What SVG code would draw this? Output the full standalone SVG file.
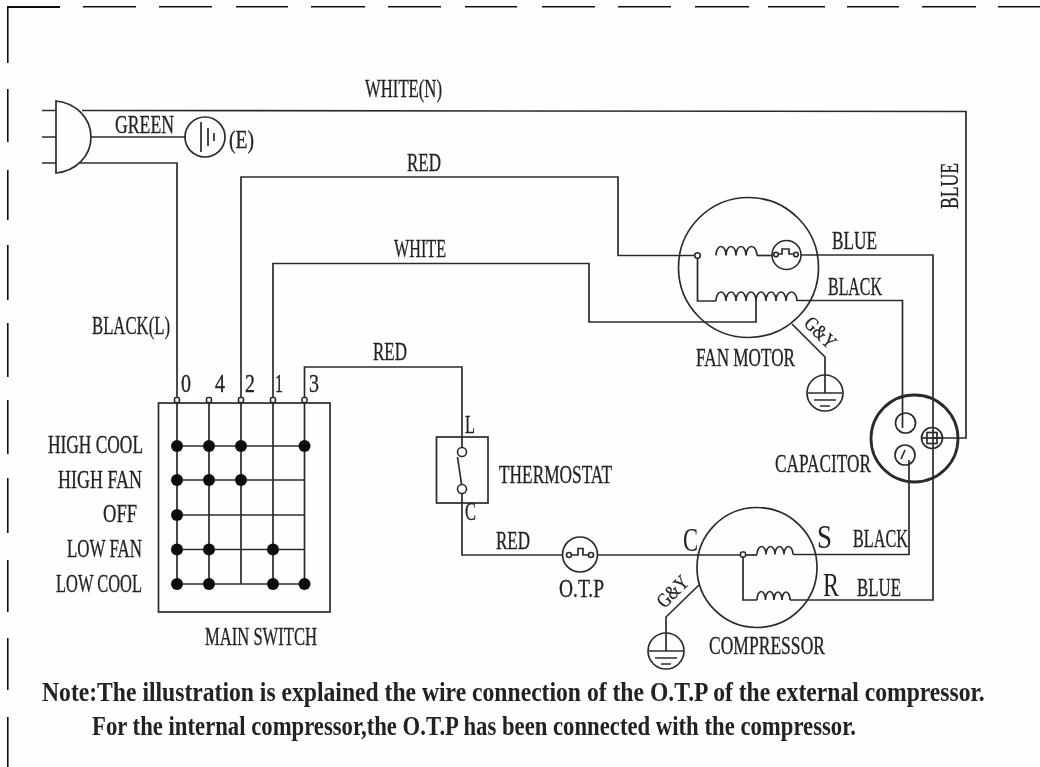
<svg xmlns="http://www.w3.org/2000/svg" width="1040" height="767" viewBox="0 0 1040 767">
<style>
text{font-family:"Liberation Serif","Times New Roman",serif;font-size:25px;fill:#222;stroke:#222;stroke-width:.3}
.w{fill:none;stroke:#2c2c2c;stroke-width:1.7;stroke-linejoin:miter}
.o{fill:#fff;stroke:#2c2c2c;stroke-width:1.6}
.n{fill:none;stroke:#2c2c2c;stroke-width:1.7}
.d{fill:#111;stroke:none}
.b{fill:none;stroke:#111;stroke-width:2.2}
.note{font-weight:bold;font-size:28px;stroke-width:0}
.big{font-size:33px;stroke-width:0}
.gy{font-size:20px}
</style>
<defs>
<filter id="soft" x="0" y="0" width="100%" height="100%"><feGaussianBlur stdDeviation="0.55"/></filter>
<g id="gnd"><circle r="18" class="n"/><path class="n" d="M0-18V0M-17 0H17M-11 7H11M-5 13H5"/></g>
</defs>
<rect width="1040" height="767" fill="#fefefe"/>
<g filter="url(#soft)">
<g id="frame"><path class="b" d="M7 7H60M83 6.500H136M159 6.500H212M236 6.500H288M311 6.500H365M388 6.500H441M465 6.500H517M542 6.500H595M618 6.500H671M695 6.500H749M768 6.500H825M847 6.500H899M922 6.500H976M998 6.500H1040M7.500 6V63M7.500 89V142M7.500 170V220M7.500 245V300M7.500 323V377M7.500 400V454M7.500 478V533M7.500 560V612M7.500 638V690M7.500 717V767"/></g>
<g id="connectors">
<path class="w" d="M82 110.500L966 111.500V438H932"/>
<path class="w" d="M91 137H186"/>
<path class="w" d="M80 163H177V400"/>
<path class="w" d="M241 400V177H618V255.500H697"/>
<path class="w" d="M273 400V263.500H589V322H756V301"/>
<path class="w" d="M304.500 400V367H462V447"/>
<path class="w" d="M462 493V555H563"/>
<path class="w" d="M598 555H743"/>
<path class="w" d="M697.500 255.500V301H716"/>
<path class="w" d="M757 255.500H772"/>
<path class="w" d="M801 255H933V600H790"/>
<path class="w" d="M797 300.500H902.500V428"/>
<path class="w" d="M793 554.500H909V460"/>
<path class="w" d="M743 555V600H757"/>
<path class="w" d="M743 555H757"/>
<path class="w" d="M792 324L825 357V375"/>
<path class="w" d="M699 585L666 617V633"/>
</g>
<g id="plug"><path class="n" d="M56 101C76 103 91 118 91 137C91 156 76 171 56 173Z" fill="#fff"/><path class="n" d="M42 110.500H56M42 137H56M42 163H56"/></g>
<g id="earth"><circle cx="205" cy="137" r="20" class="n"/><path class="n" d="M201 122V152M208 128V146M214 133V141"/><text x="229" y="148" textLength="25" lengthAdjust="spacingAndGlyphs">(E)</text></g>
<g id="main-switch">
<rect x="158.500" y="403" width="171.500" height="209" class="n"/>
<path class="n" d="M177 400V584M209 400V584M241 400V584M273 400V584M304.500 400V584M177 446H304.500M177 480H304.500M177 515H304.500M177 549.500H304.500M177 584H304.500"/>
<g class="d"><circle cx="177" cy="446" r="6"/><circle cx="209" cy="446" r="6"/><circle cx="241" cy="446" r="6"/><circle cx="304.500" cy="446" r="6"/><circle cx="177" cy="480" r="6"/><circle cx="209" cy="480" r="6"/><circle cx="241" cy="480" r="6"/><circle cx="177" cy="515" r="6"/><circle cx="177" cy="549.500" r="6"/><circle cx="209" cy="549.500" r="6"/><circle cx="273" cy="549.500" r="6"/><circle cx="177" cy="584" r="6"/><circle cx="209" cy="584" r="6"/><circle cx="273" cy="584" r="6"/><circle cx="304.500" cy="584" r="6"/></g>
<g class="o"><rect x="174.500" y="397.500" width="5" height="5" rx="1.500"/><rect x="206.500" y="397.500" width="5" height="5" rx="1.500"/><rect x="238.500" y="397.500" width="5" height="5" rx="1.500"/><rect x="270.500" y="397.500" width="5" height="5" rx="1.500"/><rect x="302" y="397.500" width="5" height="5" rx="1.500"/></g>
<text x="181" y="392" textLength="10" lengthAdjust="spacingAndGlyphs">0</text><text x="215" y="392" textLength="10" lengthAdjust="spacingAndGlyphs">4</text><text x="245" y="392" textLength="10" lengthAdjust="spacingAndGlyphs">2</text><text x="275" y="392" textLength="8" lengthAdjust="spacingAndGlyphs">1</text><text x="309" y="392" textLength="10" lengthAdjust="spacingAndGlyphs">3</text>
<text x="48" y="453" textLength="95" lengthAdjust="spacingAndGlyphs">HIGH COOL</text>
<text x="58" y="488" textLength="84" lengthAdjust="spacingAndGlyphs">HIGH FAN</text>
<text x="103" y="522" textLength="34" lengthAdjust="spacingAndGlyphs">OFF</text>
<text x="67" y="557" textLength="75" lengthAdjust="spacingAndGlyphs">LOW FAN</text>
<text x="56" y="592" textLength="86" lengthAdjust="spacingAndGlyphs">LOW COOL</text>
<text x="205" y="645" textLength="112" lengthAdjust="spacingAndGlyphs">MAIN SWITCH</text>
</g>
<g id="thermostat">
<rect x="436.500" y="437" width="51.500" height="66" class="n"/>
<circle cx="462" cy="452" r="4.500" class="o"/><circle cx="462" cy="489" r="4.500" class="o"/>
<path class="n" d="M457.500 457L461.500 484"/>
<text x="465" y="433" textLength="10" lengthAdjust="spacingAndGlyphs">L</text>
<text x="465" y="520" textLength="11" lengthAdjust="spacingAndGlyphs">C</text>
<text x="499" y="483" textLength="113" lengthAdjust="spacingAndGlyphs">THERMOSTAT</text>
</g>
<g id="otp">
<circle cx="580" cy="554.500" r="17.500" class="n"/>
<circle cx="569" cy="555" r="2.500" class="o"/><circle cx="591" cy="555" r="2.500" class="o"/>
<path class="n" d="M571 555H578V548.500H583V555H589"/>
<text x="559" y="597" textLength="45" lengthAdjust="spacingAndGlyphs">O.T.P</text>
</g>
<g id="fan-motor">
<circle cx="748.500" cy="267.500" r="70" class="n"/>
<circle cx="697.500" cy="255.500" r="2.800" class="o"/>
<path class="n" d="M716 255.500a5 9 0 0 1 10 0a5 9 0 0 1 10 0a5 9 0 0 1 10 0a5.500 9 0 0 1 11 0"/>
<path class="n" d="M716 301a5 9 0 0 1 10 0a5 9 0 0 1 10 0a5 9 0 0 1 10 0a5 9 0 0 1 10 0a5 9 0 0 1 10 0a5 9 0 0 1 10 0a5 9 0 0 1 10 0a5.500 9 0 0 1 11 0"/>
<circle cx="786.500" cy="255" r="14.500" class="o"/>
<circle cx="776" cy="254.500" r="2.300" class="o"/><circle cx="796" cy="254.500" r="2.300" class="o"/>
<path class="n" d="M778 254H782V249H789V254H794"/>
<text x="696" y="366" textLength="99" lengthAdjust="spacingAndGlyphs">FAN MOTOR</text>
<text class="gy" transform="translate(820 333) rotate(45)" x="-18" y="6" textLength="36" lengthAdjust="spacingAndGlyphs">G&amp;Y</text>
<use href="#gnd" x="825" y="393"/>
</g>
<g id="capacitor">
<circle cx="914.500" cy="438.500" r="43.500" fill="none" stroke="#2c2c2c" stroke-width="2.800"/>
<circle cx="905.500" cy="423" r="10" class="n"/>
<circle cx="905" cy="455" r="10" class="n"/>
<path class="n" d="M905 450L901 459"/>
<circle cx="932" cy="438" r="10.500" class="n"/>
<rect x="927" y="432.500" width="10" height="11" class="n"/>
<path class="n" d="M921.500 438H942"/>
<text x="775" y="472" textLength="96" lengthAdjust="spacingAndGlyphs">CAPACITOR</text>
</g>
<g id="compressor">
<circle cx="757" cy="567.500" r="60" class="n"/>
<rect x="740.500" y="552" width="5" height="5" rx="1.500" class="o"/>
<path class="n" d="M757 554.500a4.500 8 0 0 1 9 0a4.500 8 0 0 1 9 0a4.500 8 0 0 1 9 0a4.500 8 0 0 1 9 0"/>
<path class="n" d="M757 600a4 8 0 0 1 8.500 0a4 8 0 0 1 8.500 0a4 8 0 0 1 8 0a4 8 0 0 1 8 0"/>
<text class="big" x="683" y="551" textLength="15" lengthAdjust="spacingAndGlyphs">C</text>
<text class="big" x="817" y="548" textLength="15" lengthAdjust="spacingAndGlyphs">S</text>
<text class="big" x="823" y="596" textLength="16" lengthAdjust="spacingAndGlyphs">R</text>
<text x="709" y="654" textLength="116" lengthAdjust="spacingAndGlyphs">COMPRESSOR</text>
<text class="gy" transform="translate(673 592) rotate(-45)" x="-18" y="6" textLength="36" lengthAdjust="spacingAndGlyphs">G&amp;Y</text>
<use href="#gnd" x="666" y="651"/>
</g>
<g id="labels">
<text x="365" y="97" textLength="77" lengthAdjust="spacingAndGlyphs">WHITE(N)</text>
<text x="115" y="133" textLength="59" lengthAdjust="spacingAndGlyphs">GREEN</text>
<text x="407" y="171" textLength="34" lengthAdjust="spacingAndGlyphs">RED</text>
<text x="394" y="257" textLength="52" lengthAdjust="spacingAndGlyphs">WHITE</text>
<text transform="translate(958 209) rotate(-90)" textLength="46" lengthAdjust="spacingAndGlyphs">BLUE</text>
<text x="832" y="249" textLength="45" lengthAdjust="spacingAndGlyphs">BLUE</text>
<text x="828" y="295" textLength="54" lengthAdjust="spacingAndGlyphs">BLACK</text>
<text x="92" y="334" textLength="78" lengthAdjust="spacingAndGlyphs">BLACK(L)</text>
<text x="373" y="360" textLength="34" lengthAdjust="spacingAndGlyphs">RED</text>
<text x="496" y="549" textLength="34" lengthAdjust="spacingAndGlyphs">RED</text>
<text x="853" y="547" textLength="55" lengthAdjust="spacingAndGlyphs">BLACK</text>
<text x="857" y="596" textLength="44" lengthAdjust="spacingAndGlyphs">BLUE</text>
</g>
<g id="note">
<text class="note" transform="translate(42 701) scale(.877 1)" textLength="1075" lengthAdjust="spacingAndGlyphs">Note:The illustration is explained the wire connection of the O.T.P of the external compressor.</text>
<text class="note" transform="translate(92 735) scale(.877 1)" textLength="871" lengthAdjust="spacingAndGlyphs">For the internal compressor,the O.T.P has been connected with the compressor.</text>
</g>
</g>
</svg>
